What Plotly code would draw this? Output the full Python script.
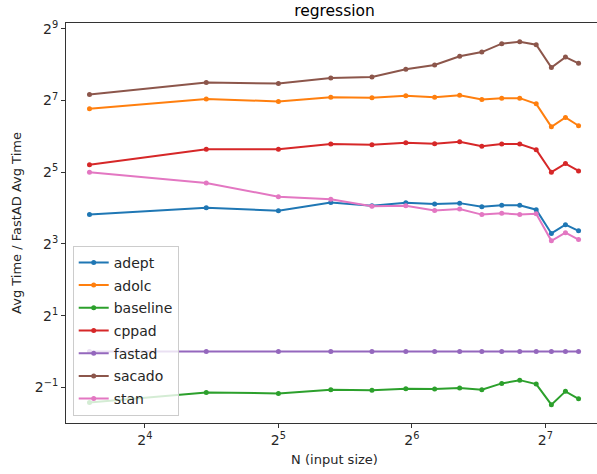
import plotly.graph_objects as go

N = [12, 22, 32, 42, 52, 62, 72, 82, 92, 102, 112, 122, 132, 142, 152]

adept = [14.1, 16.1, 15.2, 17.8, 16.7, 17.7, 17.3, 17.6, 16.4, 16.9, 16.9, 15.5, 9.8, 11.6, 10.3]
adolc = [108.9, 132.0, 125.5, 136.4, 134.6, 139.9, 136.4, 141.7, 130.5, 133.8, 133.8, 119.9, 77.0, 92.3, 78.5]
baseline = [0.374, 0.454, 0.445, 0.477, 0.474, 0.487, 0.484, 0.493, 0.477, 0.540, 0.575, 0.533, 0.358, 0.463, 0.401]
cppad = [37.0, 49.8, 49.8, 55.2, 54.5, 56.6, 55.5, 57.7, 52.8, 55.2, 55.2, 49.5, 32.0, 37.8, 32.8]
fastad = [1.0] * 15
sacado = [143.7, 181.0, 177.5, 197.8, 201.7, 233.8, 254.0, 300.5, 326.0, 383.5, 398.7, 376.0, 241.7, 296.0, 262.6]
stan = [32.0, 26.0, 19.9, 19.0, 16.6, 16.7, 15.3, 15.7, 14.1, 14.5, 14.1, 14.3, 8.5, 9.95, 8.7]

names = ["adept", "adolc", "baseline", "cppad", "fastad", "sacado", "stan"]
series = [adept, adolc, baseline, cppad, fastad, sacado, stan]
colors = ["#1f77b4", "#ff7f0e", "#2ca02c", "#d62728", "#9467bd", "#8c564b", "#e377c2"]

x_tickvals = [16, 32, 64, 128]
x_ticktext = ["2<sup>4</sup>", "2<sup>5</sup>", "2<sup>6</sup>", "2<sup>7</sup>"]
y_tickvals = [0.5, 2, 8, 32, 128, 512]
y_ticktext = ["2<sup>\u22121</sup>", "2<sup>1</sup>", "2<sup>3</sup>", "2<sup>5</sup>", "2<sup>7</sup>", "2<sup>9</sup>"]

LOG2 = 0.30102999566

fig = go.Figure()
for name, ys, c in zip(names, series, colors):
    fig.add_trace(go.Scatter(
        x=N, y=ys, name=name, mode="lines+markers",
        line=dict(color=c, width=2),
        marker=dict(color=c, size=5),
        legendgroup=name,
    ))

font = "DejaVu Sans"
fig.update_layout(
    width=612, height=474,
    margin=dict(l=66, r=8.7, t=23.3, b=50.7, autoexpand=False),
    paper_bgcolor="white", plot_bgcolor="white",
    font=dict(family=font, size=13, color="#262626"),
    title=dict(text="regression", x=0.5, xref="paper", xanchor="center",
               y=1 - 11 / 474, yref="container", yanchor="middle",
               font=dict(size=15.5, family=font, color="black")),
    showlegend=True,
    legend=dict(
        x=0.0125, y=0.018, xanchor="left", yanchor="bottom",
        bgcolor="rgba(255,255,255,0.8)", bordercolor="#cccccc", borderwidth=1,
        font=dict(size=14, family=font, color="#262626"),
        traceorder="grouped", tracegroupgap=1.5,
    ),
    xaxis=dict(
        type="log", automargin=False,
        range=[3.409 * LOG2, 7.431 * LOG2],
        tickvals=x_tickvals, ticktext=x_ticktext,
        tickfont=dict(size=14),
        showgrid=False, zeroline=False,
        showline=True, mirror=True, linecolor="#333333", linewidth=1,
        ticks="outside", ticklen=4, tickcolor="#333333",
        title=dict(text="N (input size)", standoff=8, font=dict(size=13, family=font)),
    ),
    yaxis=dict(
        type="log", automargin=False,
        range=[-1.993 * LOG2, 9.16 * LOG2],
        tickvals=y_tickvals, ticktext=y_ticktext,
        tickfont=dict(size=14),
        showgrid=False, zeroline=False,
        showline=True, mirror=True, linecolor="#333333", linewidth=1,
        ticks="outside", ticklen=4, tickcolor="#333333",
        title=dict(text="Avg Time / FastAD Avg Time", standoff=10, font=dict(size=13, family=font)),
    ),
)

fig.write_html("out.html", config={"displayModeBar": False},
               post_script="document.body.style.margin='0';document.body.style.overflow='hidden';document.documentElement.style.overflow='hidden';")
